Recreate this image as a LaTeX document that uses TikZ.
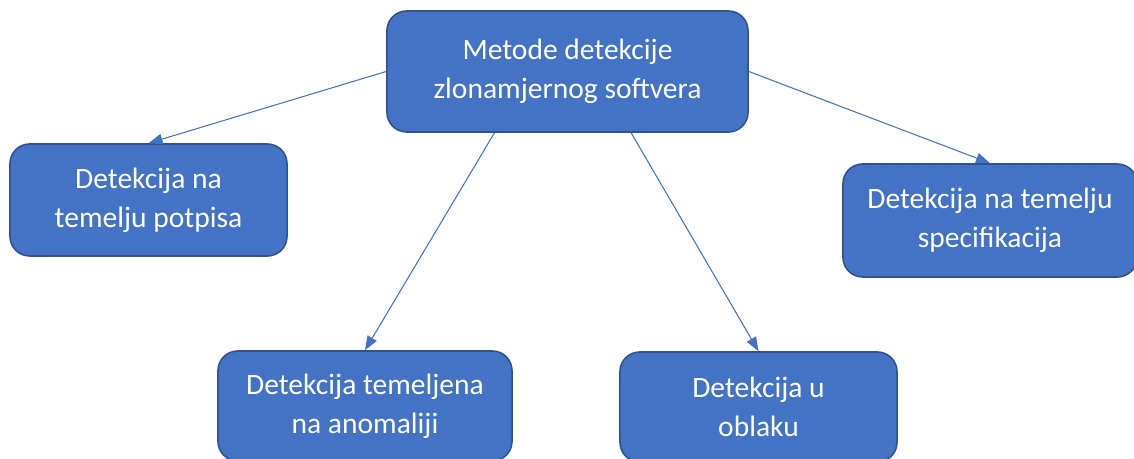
\documentclass[tikz,border=0pt]{standalone}
\usepackage{fontspec}
\setmainfont{Carlito}
\usetikzlibrary{arrows.meta}

\definecolor{boxfill}{HTML}{4472C4}
\definecolor{boxline}{HTML}{2F528F}

\begin{document}
\begin{tikzpicture}[
		x=0.025cm, y=-0.025cm,
		metbox/.style={rectangle, rounded corners=14pt, draw=boxline, line width=1.1pt,
			fill=boxfill, text=white, align=center, inner sep=0pt,
			font=\fontsize{21}{27.7}\selectfont},
		arr/.style={draw=boxfill, line width=0.75pt, -{Triangle[length=10pt, width=7.5pt]}}
	]
  \useasboundingbox (0,0) rectangle (1134,459);
  \clip (0,0) rectangle (1134,459);
  \node (m_root) [metbox, minimum width=9.025cm, minimum height=3.025cm] at (567.5, 71.5) {Metode detekcije\\zlonamjernog softvera};
  \node (d_sig) [metbox, minimum width=6.925cm, minimum height=2.8cm] at (148.5, 200) {Detekcija na\\temelju potpisa};
  \node (d_spec) [metbox, minimum width=7.35cm, minimum height=2.825cm] at (990, 220.5) {Detekcija na temelju\\specifikacija};
  \node (d_anom) [metbox, minimum width=7.35cm, minimum height=2.75cm] at (365, 406) {Detekcija temeljena\\na anomaliji};
  \node (d_cloud) [metbox, minimum width=6.925cm, minimum height=2.75cm] at (758.5, 407) {Detekcija u\\oblaku};
  \coordinate (m_sl) at ([xshift=-1.825cm]m_root.south);
  \coordinate (m_sr) at ([xshift=1.59cm]m_root.south);
  \draw (m_root.west) edge [arr] (d_sig.north);
  \draw (m_root.east) edge [arr] (d_spec.north);
  \draw (m_sl) edge [arr] (d_anom.north);
  \draw (m_sr) edge [arr] (d_cloud.north);
\end{tikzpicture}
\end{document}
